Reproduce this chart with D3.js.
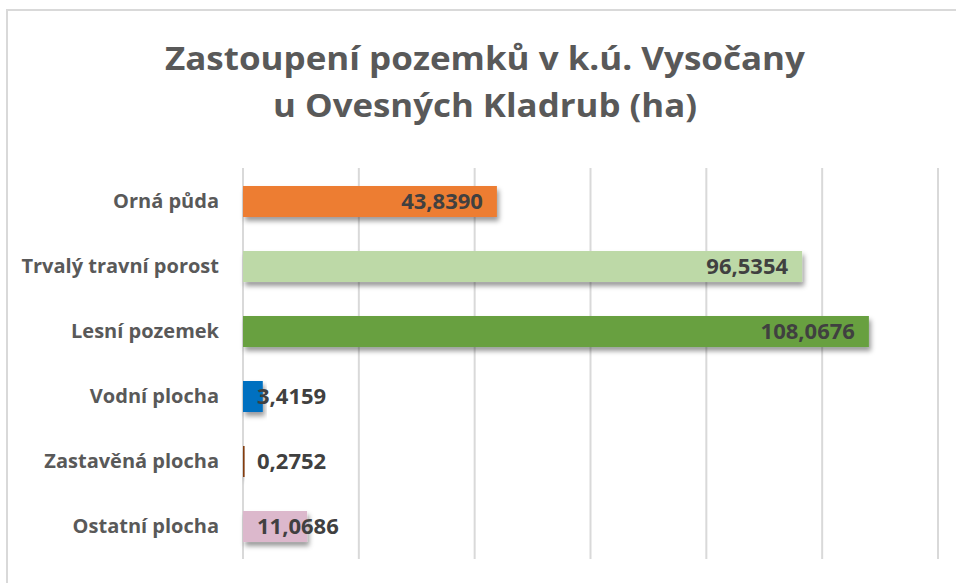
<!DOCTYPE html>
<meta charset="UTF-8">
<script src="https://cdn.jsdelivr.net/npm/d3@7"></script>
<style>
  body { margin: 0; background: #fff; }
  text { font-family: "Open Sans", sans-serif; font-weight: bold; }
</style>
<body>
<div id="chart"></div>
<script>

// data
var categories = ["Orná půda", "Trvalý travní porost", "Lesní pozemek", "Vodní plocha", "Zastavěná plocha", "Ostatní plocha"];
var values = [43.8390, 96.5354, 108.0676, 3.4159, 0.2752, 11.0686];
var tickValues = [0, 20, 40, 60, 80, 100, 120];
var titleLines = ["Zastoupení pozemků v k.ú. Vysočany", "u Ovesných Kladrub (ha)"];

var palette = ["#ED7D31", "#BDD9A7", "#67A040", "#0070C0", "#843C0C", "#DCB8CC"];

var width = 956, height = 583;

var svg = d3.select("#chart")
  .append("svg")
    .attr("width", width)
    .attr("height", height);

var defs = svg.append("defs");
defs.append("filter")
    .attr("id", "shadow")
    .attr("x", "-10%").attr("y", "-30%")
    .attr("width", "130%").attr("height", "180%")
  .append("feDropShadow")
    .attr("dx", 2).attr("dy", 4)
    .attr("stdDeviation", 2.5)
    .attr("flood-color", "#000")
    .attr("flood-opacity", 0.4);

// chart frame
svg.append("rect")
  .attr("x", 7).attr("y", 10)
  .attr("width", 960).attr("height", 600)
  .attr("fill", "none")
  .attr("stroke", "#d9d9d9")
  .attr("stroke-width", 2);

// title, stretched a little to the width of the original (narrower, taller font there)
var titleWidths = [640, 424];
svg.append("g").selectAll("text")
  .data(titleLines)
  .enter()
  .append("text")
    .attr("x", 485)
    .attr("y", function (d, i) { return 70 + i * 47; })
    .attr("text-anchor", "middle")
    .attr("font-size", 33)
    .attr("fill", "#595959")
    .attr("textLength", function (d, i) { return titleWidths[i]; })
    .attr("lengthAdjust", "spacingAndGlyphs")
    .text(function (d) { return d; });

var x = d3.scaleLinear()
  .domain([0, 120])
  .range([243, 938]);

var y = d3.scaleBand()
  .domain(categories)
  .range([169, 559])
  .paddingInner(0.523)
  .paddingOuter(0.2615);

// vertical gridlines
svg.append("g")
  .selectAll("line")
  .data(tickValues)
  .enter()
  .append("line")
    .attr("x1", function (d) { return x(d); })
    .attr("x2", function (d) { return x(d); })
    .attr("y1", 168)
    .attr("y2", 559)
    .attr("stroke", "#d9d9d9")
    .attr("stroke-width", 2);

// category axis, no line or ticks
var yAxis = svg.append("g")
  .attr("transform", "translate(219,0)")
  .call(d3.axisLeft(y).tickSize(0).tickPadding(0));
yAxis.select(".domain").remove();
yAxis.selectAll("text")
  .attr("font-size", 20)
  .attr("font-family", "Open Sans, sans-serif")
  .attr("font-weight", "bold")
  .attr("fill", "#595959");

var rows = categories.map(function (c, i) { return { cat: c, val: values[i], col: palette[i] }; });

svg.append("g")
  .selectAll("rect")
  .data(rows)
  .enter()
  .append("rect")
    .attr("x", x(0))
    .attr("y", function (d) { return y(d.cat); })
    .attr("width", function (d) { return x(d.val) - x(0); })
    .attr("height", y.bandwidth())
    .attr("fill", function (d) { return d.col; })
    .attr("filter", "url(#shadow)");

var cz = d3.formatLocale({ decimal: ",", thousands: " ", grouping: [3], currency: ["", " Kč"] });
var fmt = cz.format(".4f");

var labels = svg.append("g")
  .selectAll("text")
  .data(rows)
  .enter()
  .append("text")
    .attr("y", function (d) { return y(d.cat) + y.bandwidth() / 2; })
    .attr("dy", "0.35em")
    .attr("font-size", 22)
    .attr("fill", "#404040")
    .text(function (d) { return fmt(d.val); });

// inside end if it fits, otherwise from the bar base
labels.each(function (d) {
  var t = d3.select(this);
  var w = this.getComputedTextLength();
  var barW = x(d.val) - x(0);
  if (w + 28 <= barW) {
    t.attr("x", x(d.val) - 14).attr("text-anchor", "end");
  } else {
    t.attr("x", x(0) + 14).attr("text-anchor", "start");
  }
});

</script>
</body>
